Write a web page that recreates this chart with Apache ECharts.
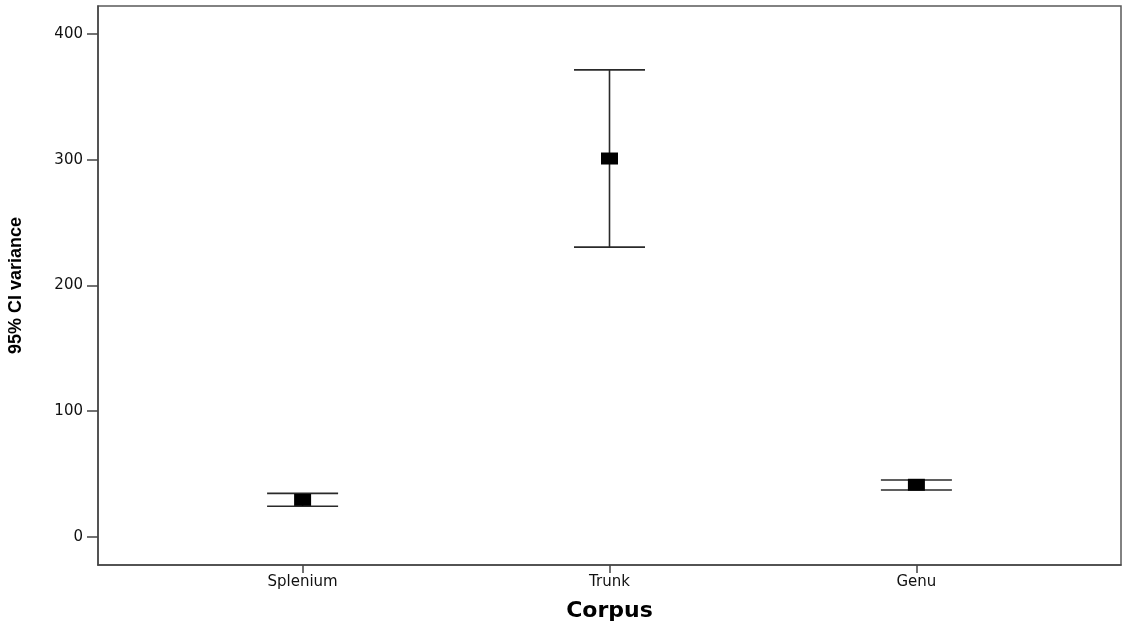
<!DOCTYPE html>
<html>
<head>
<meta charset="utf-8">
<script src="https://cdn.jsdelivr.net/npm/echarts@6/dist/echarts.min.js"></script>
<style>
html,body{margin:0;padding:0;background:#fff;}
#chart{width:1127px;height:628px;}
</style>
</head>
<body>
<div id="chart"></div>
<script>
// Data
var categories = ['Splenium', 'Trunk', 'Genu'];
var means = [29.5, 301, 41.5];
var lower = [24.4, 230.5, 37.4];
var upper = [34.7, 371.5, 45.3];
var yTicks = [0, 100, 200, 300, 400];
var xTicks = [1, 2, 3];

var meanData = categories.map(function (c, i) { return [i + 1, means[i]]; });
var ciData = categories.map(function (c, i) { return [i + 1, lower[i], upper[i]]; });

var chart = echarts.init(document.getElementById('chart'));
var axisColor = '#444';
chart.setOption({
  animation: false,
  backgroundColor: '#fff',
  grid: {
    left: 98, right: 6, top: 6, bottom: 63,
    outerBoundsMode: 'none',
    containLabel: false,
    show: true, borderColor: '#5a5a5a', borderWidth: 1.5, backgroundColor: 'transparent'
  },
  xAxis: {
    type: 'value',
    min: 1 / 3,
    max: 11 / 3,
    name: 'Corpus',
    nameLocation: 'middle',
    nameGap: 35,
    nameTextStyle: { fontFamily: 'DejaVu Sans', fontWeight: 'bold', fontSize: 22, color: '#000' },
    axisLine: { show: true, onZero: false, lineStyle: { color: axisColor, width: 1.5 } },
    axisTick: { show: true, length: 8, customValues: xTicks, lineStyle: { color: axisColor, width: 1.5 } },
    axisLabel: {
      customValues: xTicks,
      margin: 10,
      fontFamily: 'DejaVu Sans', fontSize: 15, color: '#111',
      formatter: function (v) { return categories[Math.round(v) - 1] || ''; }
    },
    splitLine: { show: false }
  },
  yAxis: {
    type: 'value',
    min: -22.3,
    max: 422.3,
    name: '95% CI variance',
    nameLocation: 'middle',
    nameRotate: 90,
    nameGap: 73,
    nameTextStyle: { fontFamily: 'Liberation Sans', fontWeight: 'bold', fontSize: 18, color: '#000' },
    axisLine: { show: true, onZero: false, lineStyle: { color: axisColor, width: 1.5 } },
    axisTick: { show: true, length: 11, customValues: yTicks, lineStyle: { color: axisColor, width: 1.5 } },
    axisLabel: {
      customValues: yTicks,
      margin: 15,
      fontFamily: 'DejaVu Sans', fontSize: 15, color: '#111'
    },
    splitLine: { show: false }
  },
  series: [
    {
      type: 'custom',
      data: ciData,
      encode: { x: 0, y: [1, 2] },
      renderItem: function (params, api) {
        var x = api.value(0);
        var lo = api.coord([x, api.value(1)]);
        var hi = api.coord([x, api.value(2)]);
        var hw = 35.5;
        var style = { stroke: '#2a2a2a', lineWidth: 1.6 };
        return {
          type: 'group',
          children: [
            { type: 'line', shape: { x1: hi[0], y1: hi[1], x2: lo[0], y2: lo[1] }, style: style },
            { type: 'line', shape: { x1: hi[0] - hw, y1: hi[1], x2: hi[0] + hw, y2: hi[1] }, style: style },
            { type: 'line', shape: { x1: lo[0] - hw, y1: lo[1], x2: lo[0] + hw, y2: lo[1] }, style: style }
          ]
        };
      },
      z: 2
    },
    {
      type: 'scatter',
      data: meanData,
      symbol: 'rect',
      symbolSize: [17, 12],
      itemStyle: { color: '#000', opacity: 1 },
      z: 3
    }
  ]
});
</script>
</body>
</html>
